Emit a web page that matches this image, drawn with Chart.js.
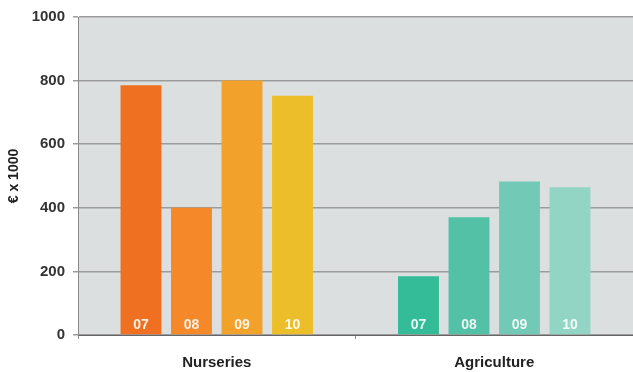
<!DOCTYPE html>
<html lang="en">
<head>
    <meta charset="utf-8" />
    <title>Turnover by sector</title>
    <script src="https://cdn.jsdelivr.net/npm/chart.js"></script>
    <style>
        html, body { margin: 0; padding: 0; background: #fff; }
        #wrap { width: 633px; height: 372px; }
    </style>
</head>
<body>
    <div id="wrap"><canvas id="chart"></canvas></div>
    <script>
        // sectors on the x axis, one bar per year in each
        const sectors = ['Nurseries', 'Agriculture'];
        const years = ['07', '08', '09', '10'];

        // € x 1000, per year: [Nurseries, Agriculture]
        const values07 = [785, 185];
        const values08 = [400, 370];
        const values09 = [800, 483];
        const values10 = [752, 465];

        const yTicks = [0, 200, 400, 600, 800, 1000];

        const nurseryColors = ['#f07022', '#f5892a', '#f2a22a', '#ebbe2a'];
        const agriColors = ['#34bb98', '#52c1a6', '#72cab6', '#93d5c5'];

        const seriesValues = [values07, values08, values09, values10];

        const FONT = '"Liberation Sans", Arial, sans-serif';

        // grey plot background
        const plotBg = {
            id: 'plotBg',
            beforeDraw(chart) {
                const { ctx, chartArea: a } = chart;
                ctx.save();
                ctx.fillStyle = '#dcdfdf';
                ctx.fillRect(a.left, a.top, a.right - a.left, a.bottom - a.top);
                ctx.restore();
            }
        };

        // year label at the foot of each bar
        const yearLabels = {
            id: 'yearLabels',
            afterDatasetsDraw(chart) {
                const { ctx } = chart;
                const base = chart.scales.y.getPixelForValue(0);
                ctx.save();
                ctx.font = 'bold 14px ' + FONT;
                ctx.fillStyle = 'rgba(255,255,255,0.88)';
                ctx.textAlign = 'center';
                ctx.textBaseline = 'middle';
                chart.data.datasets.forEach((ds, i) => {
                    chart.getDatasetMeta(i).data.forEach(bar => {
                        ctx.fillText(ds.label, bar.x, base - 10);
                    });
                });
                ctx.restore();
            }
        };

        new Chart(document.getElementById('chart'), {
            type: 'bar',
            data: {
                labels: sectors,
                datasets: years.map((y, i) => ({
                    label: y,
                    data: seriesValues[i],
                    backgroundColor: [nurseryColors[i], agriColors[i]],
                    borderWidth: 0,
                    categoryPercentage: 0.728,
                    barPercentage: 0.81
                }))
            },
            options: {
                responsive: true,
                maintainAspectRatio: false,
                animation: false,
                layout: { padding: { top: 16, right: 0, left: 6, bottom: 0 } },
                plugins: {
                    legend: { display: false },
                    tooltip: { enabled: false }
                },
                scales: {
                    x: {
                        afterFit(axis) { axis.height = 37; },
                        grid: { display: true, drawOnChartArea: false, tickLength: 4, color: '#888' },
                        border: { color: '#666', width: 1 },
                        ticks: {
                            padding: 15,
                            color: '#222',
                            font: { family: FONT, size: 15, weight: 'bold' }
                        }
                    },
                    y: {
                        min: 0,
                        max: 1000,
                        afterBuildTicks(axis) {
                            axis.ticks = yTicks.map(v => ({ value: v }));
                        },
                        afterFit(axis) { axis.width = 72; },
                        grid: { color: '#9c9c9c', lineWidth: 1.5, tickLength: 5 },
                        border: { color: '#888', width: 1 },
                        ticks: {
                            padding: 8,
                            color: '#333',
                            callback: v => String(v),
                            font: { family: FONT, size: 15, weight: 'bold' }
                        },
                        title: {
                            display: true,
                            text: '€ x 1000',
                            color: '#222',
                            padding: 0,
                            font: { family: FONT, size: 14, weight: 'bold' }
                        }
                    }
                }
            },
            plugins: [plotBg, yearLabels]
        });
    </script>
</body>
</html>
